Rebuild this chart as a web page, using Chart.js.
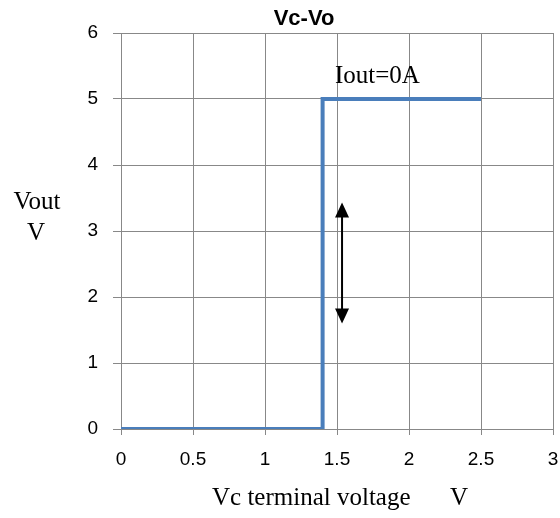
<!DOCTYPE html>
<html>
<head>
<meta charset="utf-8">
<script src="https://cdn.jsdelivr.net/npm/chart.js@4"></script>
<style>
  body { margin: 0; background: #fff; }
  #wrap { width: 560px; height: 518px; }
</style>
</head>
<body>
<div id="wrap"><canvas id="canvas"></canvas></div>
<script>
// Vc terminal voltage (V) vs Vout (V), Iout = 0A
var vcValues = [0, 1.4, 1.4, 2.5];
var voutValues = [0, 0, 5, 5];
var xTicks = [0, 0.5, 1, 1.5, 2, 2.5, 3];
var yTicks = [0, 1, 2, 3, 4, 5, 6];

// double arrow marker (x, y from, y to)
var arrowX = 1.535;
var arrowFrom = 1.6;
var arrowTo = 3.43;

var points = vcValues.map(function (v, i) {
    return {x: v, y: voutValues[i]};
});

var serif = '"Liberation Serif", "Times New Roman", serif';
var sans = '"Liberation Sans", Arial, sans-serif';

var extras = {
    id: 'extras',
    afterDraw: function (chart) {
        var c = chart.ctx, xs = chart.scales.x, ys = chart.scales.y;
        c.save();
        c.fillStyle = '#000';

        // title
        c.font = 'bold 22px ' + sans;
        c.textAlign = 'center';
        c.textBaseline = 'alphabetic';
        c.fillText('Vc-Vo', 304, 25);

        // axis titles
        c.font = '25px ' + serif;
        c.fillText('Vout', 37, 209);
        c.fillText('V', 36, 240);
        c.textAlign = 'left';
        c.fillText('Vc terminal voltage', 212, 505);
        c.fillText('V', 450, 505);

        // annotation
        c.fillText('Iout=0A', 335, 83);

        // double-headed arrow
        var ax = xs.getPixelForValue(arrowX);
        var y1 = ys.getPixelForValue(arrowTo);
        var y2 = ys.getPixelForValue(arrowFrom);
        var head = 15, half = 7;
        c.strokeStyle = '#000';
        c.lineWidth = 2;
        c.beginPath();
        c.moveTo(ax, y1 + head - 2);
        c.lineTo(ax, y2 - head + 2);
        c.stroke();
        c.beginPath();
        c.moveTo(ax, y1);
        c.lineTo(ax - half, y1 + head);
        c.lineTo(ax + half, y1 + head);
        c.closePath();
        c.fill();
        c.beginPath();
        c.moveTo(ax, y2);
        c.lineTo(ax - half, y2 - head);
        c.lineTo(ax + half, y2 - head);
        c.closePath();
        c.fill();
        c.restore();
    }
};

function plain(v) {
    return String(v);
}

var opt = {
    responsive: true,
    maintainAspectRatio: false,
    animation: false,
    layout: {padding: {top: 33, right: 7, left: 0, bottom: 0}},
    plugins: {
        legend: {display: false},
        tooltip: {enabled: false},
        title: {display: false}
    },
    scales: {
        x: {
            type: 'linear',
            min: 0,
            max: 3,
            afterBuildTicks: function (s) {
                s.ticks = xTicks.map(function (v) { return {value: v}; });
            },
            afterFit: function (s) {
                s.height = 89;
                s.paddingLeft = 0;
                s.paddingRight = 0;
            },
            grid: {color: '#888', lineWidth: 1, tickLength: 6, drawTicks: true},
            border: {color: '#888'},
            ticks: {
                color: '#000',
                padding: 13,
                maxRotation: 0,
                callback: plain,
                font: {family: sans, size: 19}
            }
        },
        y: {
            type: 'linear',
            min: 0,
            max: 6,
            afterBuildTicks: function (s) {
                s.ticks = yTicks.map(function (v) { return {value: v}; });
            },
            afterFit: function (s) {
                s.width = 121;
                s.paddingTop = 0;
                s.paddingBottom = 0;
            },
            grid: {color: '#888', lineWidth: 1, tickLength: 8, drawTicks: true},
            border: {color: '#888'},
            ticks: {
                color: '#000',
                padding: 15,
                callback: plain,
                font: {family: sans, size: 19}
            }
        }
    }
};

var ctx = document.getElementById('canvas').getContext('2d');
new Chart(ctx, {
    type: 'scatter',
    data: {
        datasets: [{
            data: points,
            showLine: true,
            borderColor: '#4a7ebb',
            borderWidth: 4,
            pointRadius: 0,
            fill: false
        }]
    },
    options: opt,
    plugins: [extras]
});
</script>
</body>
</html>
